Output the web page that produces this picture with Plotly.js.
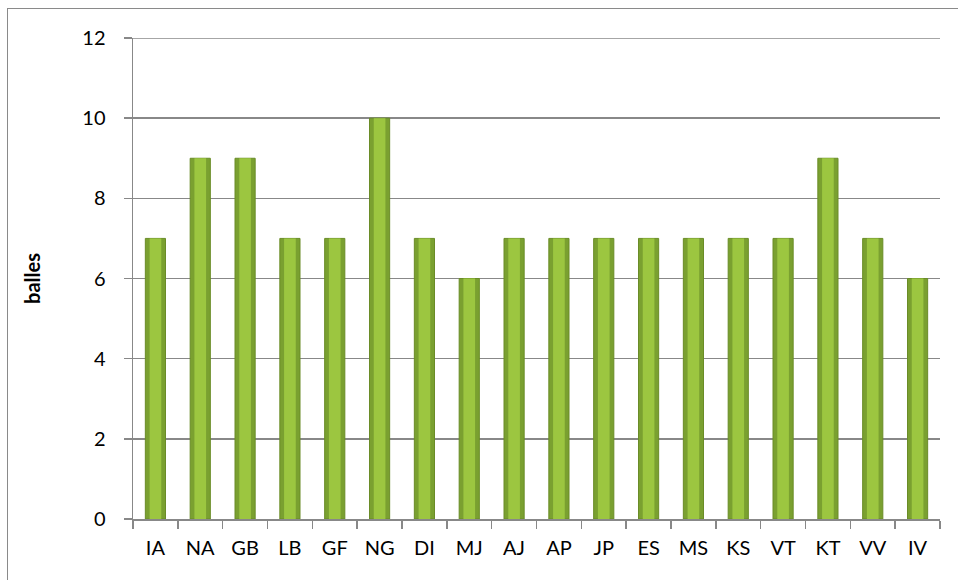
<!DOCTYPE html>
<html><head><meta charset="utf-8">
<script src="https://cdn.plot.ly/plotly-3.0.1.min.js"></script>
<style>
html,body{margin:0;padding:0;background:#fff;}
#wrap{position:relative;width:958px;height:580px;}
#frame{position:absolute;left:7px;top:8px;width:960px;height:600px;border-left:1.5px solid #8a8a8a;border-top:1.5px solid #8a8a8a;box-sizing:border-box;pointer-events:none;}
#chart{position:absolute;left:0;top:0;width:958px;height:580px;}
</style></head>
<body><div id="wrap"><div id="chart"></div><div id="frame"></div></div>
<script>
const categories = ["IA","NA","GB","LB","GF","NG","DI","MJ","AJ","AP","JP","ES","MS","KS","VT","KT","VV","IV"];
const balles = [7,9,9,7,7,10,7,6,7,7,7,7,7,7,7,9,7,6];
const yTickVals = [0,2,4,6,8,10,12];

const font = {family:"Lato, 'Open Sans', sans-serif", size:20, color:"#000"};
const traces = [
  {type:"bar", x:categories, y:balles, width:0.45, marker:{color:"#7aa030", line:{color:"#6a8c27", width:1}}, hoverinfo:"x+y"},
  {type:"bar", x:categories, y:balles, width:0.26, marker:{color:"#9cc640", line:{width:0}}, hoverinfo:"skip"}
];
const layout = {
  width:958, height:580,
  margin:{l:133, r:18, t:38, b:61},
  paper_bgcolor:"#fff", plot_bgcolor:"#fff",
  barmode:"overlay", showlegend:false, font:font,
  xaxis:{type:"category", showgrid:false, showline:true, linecolor:"#888", linewidth:1.5,
         ticks:"outside", tickson:"boundaries", ticklen:8, tickcolor:"#888", tickwidth:1.5,
         tickfont:font, ticklabelstandoff:10, fixedrange:true},
  yaxis:{range:[0,12], tickvals:yTickVals, showgrid:true, gridcolor:"#888", gridwidth:1.5,
         showline:true, linecolor:"#888", linewidth:1.5, zeroline:false,
         ticks:"outside", ticklen:8, tickcolor:"#888", tickwidth:1.5,
         tickfont:font, ticklabelstandoff:14,
         title:{text:"<b>balles</b>", font:{family:"Lato, 'Open Sans', sans-serif", size:20, color:"#000"}, standoff:36}},
  shapes:[{type:"line", xref:"paper", yref:"y", x0:0, x1:1, y0:12, y1:12, line:{color:"#888", width:1.5}, layer:"below"}]
};
Plotly.newPlot("chart", traces, layout, {displayModeBar:false, staticPlot:true});
</script></body></html>
